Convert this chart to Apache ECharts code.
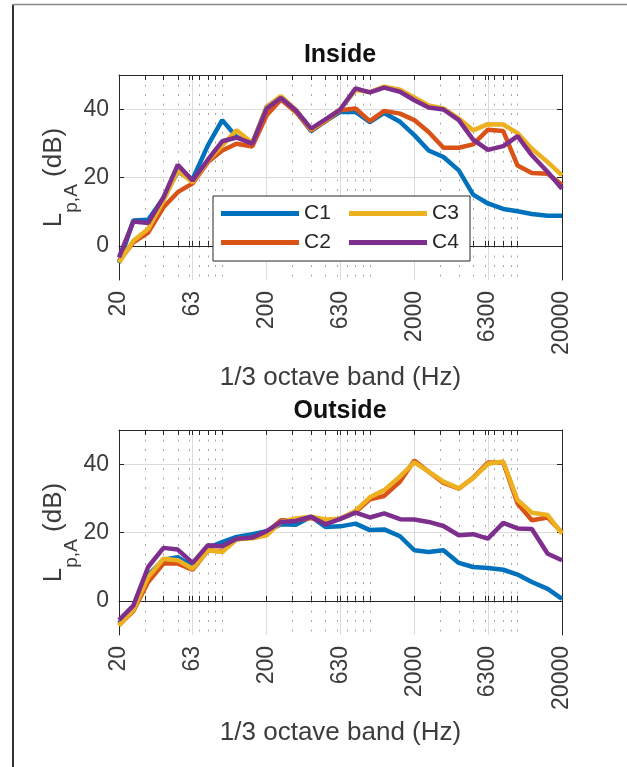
<!DOCTYPE html>
<html>
<head>
<meta charset="utf-8">
<script src="https://cdn.jsdelivr.net/npm/echarts@6/dist/echarts.min.js"></script>
<style>
  html, body { margin: 0; padding: 0; background: #fff; }
  #main { width: 627px; height: 767px; }
</style>
</head>
<body>
<div id="main"></div>
<script>
// 1/3 octave band centre frequencies (Hz)
var bands = [20, 25, 31.5, 40, 50, 63, 80, 100, 125, 160, 200, 250, 315, 400, 500, 630,
    800, 1000, 1250, 1600, 2000, 2500, 3150, 4000, 5000, 6300, 8000, 10000, 12500, 16000, 20000];

var xTickLabels = [20, 63, 200, 630, 2000, 6300, 20000];
var xMinorGrid = [30, 40, 50, 60, 70, 80, 90, 100, 300, 400, 500, 600, 700, 800, 900, 1000,
    3000, 4000, 5000, 6000, 7000, 8000, 9000, 10000];
var yTickLabels = [0, 20, 40];
var seriesNames = ['C1', 'C2', 'C3', 'C4'];

// Inside, L_p,A (dB)
var inC1 = [-5, 7.4, 7.6, 14, 21.6, 19.5, 29.4, 36.8, 31.9, 30, 40.7, 43.6, 39.5, 33.6, 36.5, 39.2,
    39.2, 36.2, 38.9, 36.3, 32.4, 27.9, 26, 22.1, 15, 12.4, 10.8, 10.1, 9.3, 8.8, 8.8];
var inC2 = [-4.5, 1, 3.9, 11.3, 15.7, 18.3, 24.5, 27.9, 29.9, 29.1, 38.2, 42.8, 39.2, 33.8, 36.5, 39.7,
    40.2, 36.5, 39.5, 38.7, 36.8, 33.3, 28.7, 28.7, 29.7, 34, 33.6, 23.5, 21.3, 21.1, 17.9];
var inC3 = [-4.9, 1.5, 4.9, 13.2, 22, 18.6, 25, 29.4, 33.8, 30.1, 40.7, 43.8, 39.8, 34, 36.8, 40,
    45.6, 45, 46.6, 45.7, 43.4, 41.1, 40.2, 37.3, 33.8, 35.6, 35.5, 33, 28.4, 24.5, 20.6];
var inC4 = [-3.4, 7.1, 6.7, 14.2, 23.7, 19.1, 25.2, 30.6, 31.7, 29.9, 40.2, 43.3, 39.7, 34.3, 37, 39.9,
    46.1, 44.9, 46.3, 45.1, 42.6, 40.5, 39.9, 36.8, 31.1, 28.1, 29.2, 32.1, 26.5, 21.6, 16.7];

// Outside, L_p,A (dB)
var outC1 = [-6.5, -2, 7.5, 12, 12.8, 10, 15.5, 17.2, 18.7, 19.5, 20.4, 22.4, 22.3, 24.6, 21.6, 21.8,
    22.6, 20.7, 20.9, 18.9, 14.8, 14.3, 14.8, 11.1, 9.9, 9.6, 9.1, 7.7, 5.5, 3.5, 0.6];
var outC2 = [-7, -3, 5.5, 10.9, 10.9, 9.1, 14.8, 14.5, 18, 18.5, 20, 23.6, 23.5, 24.2, 23.2, 24,
    26, 29.7, 30.7, 34.9, 41.1, 37.8, 34.5, 32.8, 36, 40.5, 40.5, 28.5, 23.6, 24.4, 20];
var outC3 = [-7.3, -2.6, 6.9, 12.3, 11.9, 9.4, 14.8, 14.3, 18, 18.3, 19.2, 23.1, 24.1, 24.6, 23.8, 24,
    26.4, 30.3, 32.4, 36.4, 40.5, 37.8, 34.9, 32.9, 35.9, 40.1, 40.8, 29.5, 25.8, 25.1, 19.7];
var outC4 = [-5.6, -1.4, 9.9, 15.5, 15, 11.1, 16.3, 16, 18.2, 18.5, 20.4, 23.1, 23.4, 24.6, 22.4, 24,
    25.8, 24.4, 25.6, 23.9, 23.8, 23.1, 21.9, 19.2, 19.5, 18.2, 22.8, 21.2, 21, 13.8, 11.9];

var colors = ['#0072BD', '#D95319', '#EDB120', '#7E2F8E'];
var font = "'Liberation Sans', Arial, sans-serif";
var axisColor = '#262626';
var textColor = '#3c3c3c';

// log axis drawn on log10(f)
var lg = function (v) { return Math.log10(v); };
var xMin = lg(20), xMax = lg(20000);
var majorLog = xTickLabels.map(lg);
var minorLog = xMinorGrid.map(lg);
var allLog = majorLog.concat(minorLog);

var chart = echarts.init(document.getElementById('main'));

var gridTops = [75, 430];
var xAxes = [], yAxes = [], series = [];

gridTops.forEach(function (top, g) {
    // bottom: labels, major grid
    xAxes.push({
        type: 'value', gridIndex: g, min: xMin, max: xMax, position: 'bottom',
        axisLine: { show: true, lineStyle: { color: axisColor, width: 1 } },
        axisTick: { show: true, inside: true, length: 5, customValues: majorLog, lineStyle: { color: axisColor } },
        axisLabel: {
            customValues: majorLog, rotate: 90, margin: 11, fontSize: 23, color: textColor, fontFamily: font,
            padding: [6, 0, 0, 0],
            formatter: function (v) { return String(Math.round(Math.pow(10, v))); }
        },
        splitLine: { show: true, lineStyle: { color: '#dcdcdc', width: 1 } },
        name: '1/3 octave band (Hz)', nameLocation: 'middle', nameGap: 85, nameMoveOverlap: false,
        nameTextStyle: { fontSize: 26, color: textColor, fontFamily: font }
    });
    // bottom: minor dotted grid
    xAxes.push({
        type: 'value', gridIndex: g, min: xMin, max: xMax, position: 'bottom',
        axisLine: { show: false },
        axisTick: { show: true, inside: true, length: 5, customValues: minorLog, lineStyle: { color: axisColor } },
        axisLabel: { show: false },
        splitLine: { show: true, lineStyle: { color: '#a8a8a8', width: 1, type: [2, 7.5] } }
    });
    // top box edge
    xAxes.push({
        type: 'value', gridIndex: g, min: xMin, max: xMax, position: 'top',
        axisLine: { show: true, lineStyle: { color: axisColor, width: 1 } },
        axisTick: { show: true, inside: true, length: 5, customValues: allLog, lineStyle: { color: axisColor } },
        axisLabel: { show: false },
        splitLine: { show: false }
    });
    yAxes.push({
        type: 'value', gridIndex: g, min: -10, max: 50, position: 'left',
        axisLine: { show: true, lineStyle: { color: axisColor, width: 1 } },
        axisTick: { show: true, inside: true, length: 5, customValues: yTickLabels, lineStyle: { color: axisColor } },
        axisLabel: { customValues: yTickLabels, margin: 10, fontSize: 23, color: textColor, fontFamily: font,
            padding: [5, 0, 0, 0] },
        splitLine: { show: true, lineStyle: { color: '#dcdcdc', width: 1 } },
        name: '{m|L}{s|p,A}{m| (dB)}', nameLocation: 'middle', nameRotate: 90, nameGap: 38,
        nameMoveOverlap: false,
        nameTextStyle: {
            color: textColor, fontFamily: font,
            rich: {
                m: { fontSize: 26, color: textColor, fontFamily: font, verticalAlign: 'top' },
                s: { fontSize: 19, color: textColor, fontFamily: font, verticalAlign: 'bottom', padding: [21, 0, 0, 0] }
            }
        }
    });
    yAxes.push({
        type: 'value', gridIndex: g, min: -10, max: 50, position: 'right',
        axisLine: { show: true, lineStyle: { color: axisColor, width: 1 } },
        axisTick: { show: true, inside: true, length: 5, customValues: yTickLabels, lineStyle: { color: axisColor } },
        axisLabel: { show: false },
        splitLine: { show: false }
    });
});

var groups = [[inC1, inC2, inC3, inC4], [outC1, outC2, outC3, outC4]];
groups.forEach(function (set, g) {
    set.forEach(function (vals, k) {
        series.push({
            name: seriesNames[k],
            type: 'line',
            xAxisIndex: g * 3,
            yAxisIndex: g * 2,
            data: bands.map(function (f, i) { return [lg(f), vals[i]]; }),
            showSymbol: false,
            symbol: 'none',
            lineStyle: { color: colors[k], width: 4.5 },
            itemStyle: { color: colors[k] },
            z: 3 + k,
            animation: false
        });
    });
});

var option = {
    animation: false,
    backgroundColor: '#fff',
    textStyle: { fontFamily: font },
    title: [
        { text: 'Inside', left: 340, top: 43, textAlign: 'center', padding: 0,
          textStyle: { fontSize: 25, fontWeight: 'bold', color: '#111', fontFamily: font } },
        { text: 'Outside', left: 340, top: 399, textAlign: 'center', padding: 0,
          textStyle: { fontSize: 25, fontWeight: 'bold', color: '#111', fontFamily: font } }
    ],
    grid: [
        { left: 119, top: gridTops[0], width: 443, height: 205 },
        { left: 119, top: gridTops[1], width: 443, height: 205 }
    ],
    legend: {
        data: ['C1', 'C3', 'C2', 'C4'],
        left: 213, top: 196, width: 250,
        orient: 'horizontal',
        icon: 'rect', itemWidth: 78, itemHeight: 5, itemGap: 8,
        padding: [7, 1, 8, 8],
        borderColor: axisColor, borderWidth: 1, backgroundColor: '#fff',
        textStyle: { fontSize: 21, color: '#262626', fontFamily: font, width: 37, lineHeight: 21 }
    },
    graphic: [
        { type: 'line', shape: { x1: 13, y1: 4.5, x2: 13, y2: 767 }, style: { stroke: '#333', lineWidth: 2 } },
        { type: 'line', shape: { x1: 13, y1: 4.5, x2: 627, y2: 4.5 }, style: { stroke: '#8a8a8a', lineWidth: 1.5 } }
    ],
    xAxis: xAxes,
    yAxis: yAxes,
    series: series
};

chart.setOption(option);
</script>
</body>
</html>
